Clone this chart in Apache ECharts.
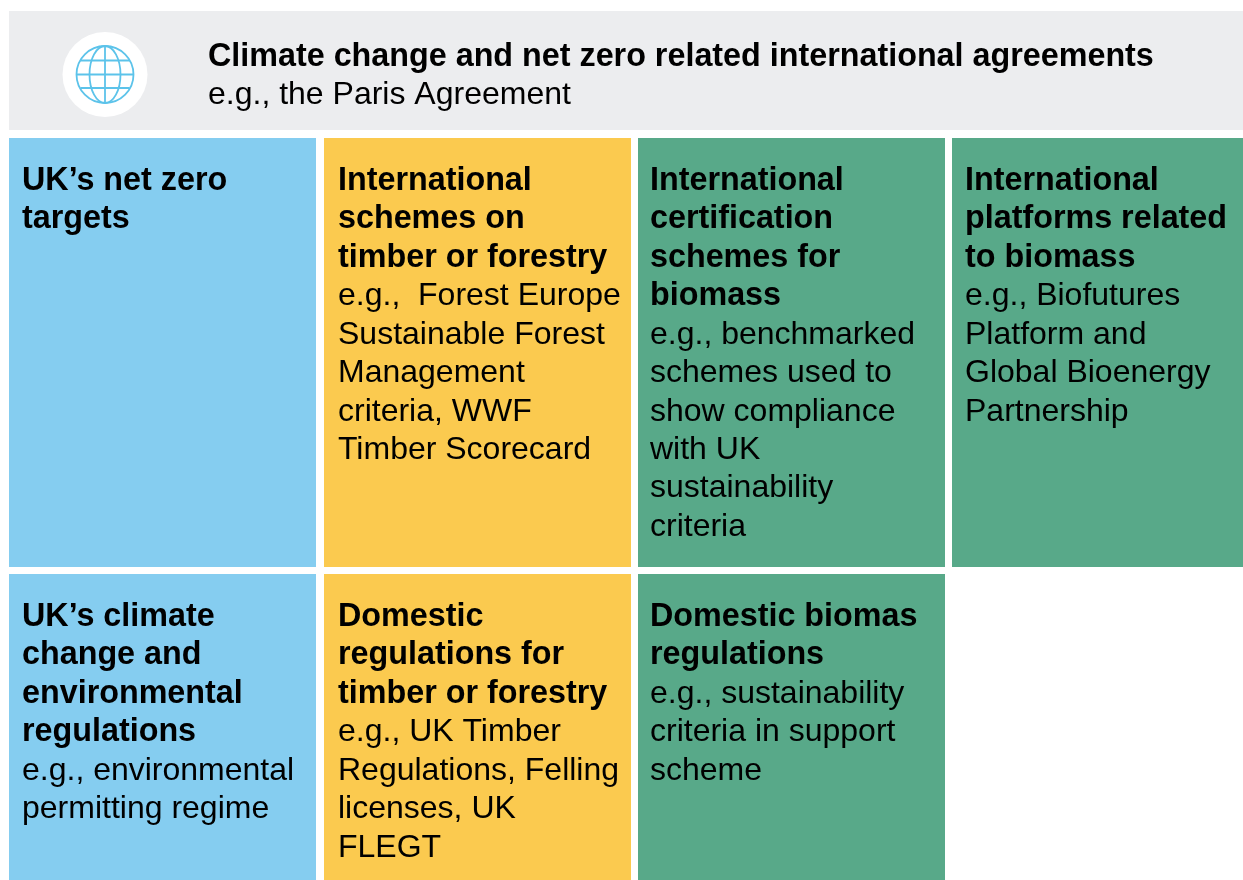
<!DOCTYPE html>
<html>
<head>
<meta charset="utf-8">
<title>Climate change and net zero governance</title>
<script src="https://cdn.jsdelivr.net/npm/echarts@6/dist/echarts.min.js"></script>
<style>
  html, body { margin: 0; padding: 0; background: #ffffff; }
  #mychart { width: 1243px; height: 880px; }
</style>
</head>
<body>
<div id="mychart"></div>
<script>
// chart content
var headerTitle = "Climate change and net zero related international agreements";
var headerBody = "e.g., the Paris Agreement";
var cellColumns = [0, 1, 2, 3, 0, 1, 2];
var cellRows = [0, 0, 0, 0, 1, 1, 1];
var cellGroups = ["blue", "orange", "green", "green", "blue", "orange", "green"];
var cellTitles = [
  ["UK’s net zero", "targets"],
  ["International", "schemes on", "timber or forestry"],
  ["International", "certification", "schemes for", "biomass"],
  ["International", "platforms related", "to biomass"],
  ["UK’s climate", "change and", "environmental", "regulations"],
  ["Domestic", "regulations for", "timber or forestry"],
  ["Domestic biomas", "regulations"]
];
var cellBodies = [
  [],
  ["e.g.,  Forest Europe", "Sustainable Forest", "Management", "criteria, WWF", "Timber Scorecard"],
  ["e.g., benchmarked", "schemes used to", "show compliance", "with UK", "sustainability", "criteria"],
  ["e.g., Biofutures", "Platform and", "Global Bioenergy", "Partnership"],
  ["e.g., environmental", "permitting regime"],
  ["e.g., UK Timber", "Regulations, Felling", "licenses, UK", "FLEGT"],
  ["e.g., sustainability", "criteria in support", "scheme"]
];

// layout, in page pixels
var colLeft = [9, 324, 638, 952];
var colRight = [316, 631, 945, 1243];
var rowTop = [138, 574];
var rowBottom = [567, 880];
var textLeft = [22, 338, 650, 965];
var groupColor = { blue: "#85cdf0", orange: "#fbca4f", green: "#58a989" };
var headerColor = "#ecedef";
var globeColor = "#5cc3ea";
var boldSize = 32.3;
var plainSize = 32;
var lineStep = 38.45;

var chart = echarts.init(document.getElementById("mychart"), null, { renderer: "canvas" });

function lineText(x, y, str, bold) {
  return {
    type: "text",
    style: {
      x: x, y: y, text: str,
      fill: "#000000",
      fontFamily: "Liberation Sans",
      fontSize: bold ? boldSize : plainSize,
      fontWeight: bold ? "bold" : "normal",
      verticalAlign: "middle",
      align: "left"
    }
  };
}

function renderCell(params, api) {
  var i = params.dataIndex;
  var col = api.value(0), row = api.value(1);
  var tl = api.coord([colLeft[col], rowTop[row]]);
  var br = api.coord([colRight[col], rowBottom[row]]);
  var kids = [{
    type: "rect",
    shape: { x: tl[0], y: tl[1], width: br[0] - tl[0], height: br[1] - tl[1] },
    style: { fill: groupColor[cellGroups[i]] }
  }];
  var y = tl[1] + 43;
  cellTitles[i].concat(cellBodies[i]).forEach(function (str, k) {
    kids.push(lineText(textLeft[col], y + k * lineStep, str, k < cellTitles[i].length));
  });
  return { type: "group", children: kids };
}

var cx = 105, cy = 74.5, r = 28.5;
var globeStyle = { stroke: globeColor, lineWidth: 1.8, fill: "transparent" };

chart.setOption({
  animation: false,
  backgroundColor: "#ffffff",
  grid: { left: 0, right: 0, top: 0, bottom: 0 },
  xAxis: { type: "value", min: 0, max: 1243, show: false },
  yAxis: { type: "value", min: 0, max: 880, inverse: true, show: false },
  series: [{
    type: "custom",
    coordinateSystem: "cartesian2d",
    renderItem: renderCell,
    data: cellColumns.map(function (c, i) { return [c, cellRows[i]]; }),
    encode: { x: -1, y: -1 },
    silent: true
  }],
  graphic: [
    { type: "rect", z: 1, shape: { x: 9, y: 11, width: 1234, height: 119 }, style: { fill: headerColor } },
    { type: "circle", z: 2, shape: { cx: cx, cy: 74.5, r: 42.5 }, style: { fill: "#ffffff" } },
    { type: "circle", z: 3, shape: { cx: cx, cy: cy, r: r }, style: globeStyle },
    { type: "ellipse", z: 3, shape: { cx: cx, cy: cy, rx: 15.5, ry: r }, style: globeStyle },
    { type: "line", z: 3, shape: { x1: cx, y1: cy - r, x2: cx, y2: cy + r }, style: globeStyle },
    { type: "line", z: 3, shape: { x1: cx - r, y1: cy, x2: cx + r, y2: cy }, style: globeStyle },
    { type: "line", z: 3, shape: { x1: cx - 24.5, y1: cy - 14, x2: cx + 24.5, y2: cy - 14 }, style: globeStyle },
    { type: "line", z: 3, shape: { x1: cx - 24.5, y1: cy + 13.5, x2: cx + 24.5, y2: cy + 13.5 }, style: globeStyle },
    Object.assign(lineText(208, 57, headerTitle, true), { z: 3 }),
    Object.assign(lineText(208, 95, headerBody, false), { z: 3 })
  ]
});
</script>
</body>
</html>
